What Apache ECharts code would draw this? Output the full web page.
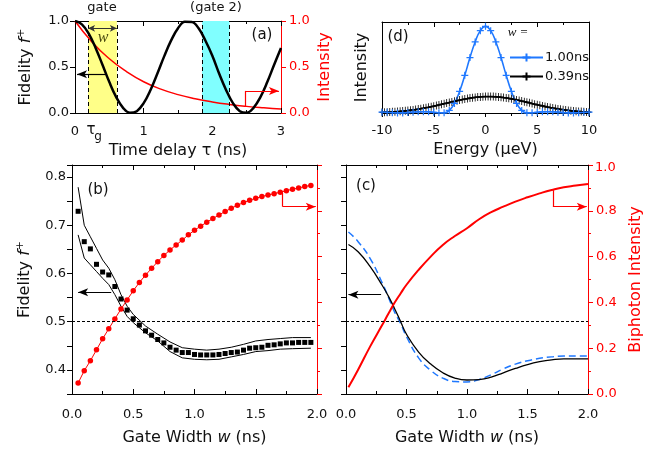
<!DOCTYPE html>
<html>
<head>
<meta charset="utf-8">
<script src="https://cdn.jsdelivr.net/npm/echarts@6/dist/echarts.min.js"></script>
<style>
  html, body { margin: 0; padding: 0; background: #fff; }
  #chart { width: 667px; height: 455px; }
</style>
</head>
<body>
<div id="chart"></div>
<script>
// (a) fidelity and intensity vs time delay
const tauA = [0, 0.1, 0.2, 0.3, 0.4, 0.5, 0.6, 0.7, 0.8, 0.9, 1.0, 1.1, 1.2, 1.3, 1.4, 1.5,
  1.6, 1.7, 1.8, 1.9, 2.0, 2.1, 2.2, 2.3, 2.4, 2.5, 2.6, 2.7, 2.8, 2.9, 3.0];
const fidA = [1.0, 0.964, 0.862, 0.707, 0.524, 0.336, 0.172, 0.056, 0.002, 0.020, 0.107, 0.25,
  0.429, 0.618, 0.789, 0.921, 0.991, 0.990, 0.920, 0.785, 0.622, 0.426, 0.25, 0.107, 0.020,
  0.002, 0.056, 0.172, 0.336, 0.524, 0.707];
const tauI = [0, 0.25, 0.5, 0.75, 1.0, 1.25, 1.5, 1.75, 2.0, 2.25, 2.5, 2.75, 3.0];
const intA = [1.0, 0.77, 0.59, 0.45, 0.34, 0.26, 0.2, 0.155, 0.12, 0.093, 0.072, 0.056, 0.043];
const gateA = [0.19, 0.61];
const gate2A = [1.85, 2.25];

// (d) spectra
const energyBlue = [-10, -9.5, -9, -8.5, -8, -7.5, -7, -6.5, -6, -5.5, -5, -4.5, -4, -3.5, -3,
  -2.5, -2, -1.5, -1, -0.5, 0, 0.5, 1, 1.5, 2, 2.5, 3, 3.5, 4, 4.5, 5, 5.5, 6, 6.5, 7, 7.5, 8,
  8.5, 9, 9.5, 10];
const specBlue = [0.010, 0.008, 0.004, 0.001, 0.001, 0.005, 0.010, 0.014, 0.015, 0.013, 0.008,
  0.003, 0.002, 0.030, 0.110, 0.250, 0.435, 0.640, 0.820, 0.950, 1.000, 0.950, 0.820, 0.640,
  0.435, 0.250, 0.110, 0.030, 0.002, 0.003, 0.008, 0.013, 0.015, 0.014, 0.010, 0.005, 0.001,
  0.001, 0.004, 0.008, 0.010];
const energyBlack = [-10, -9.75, -9.5, -9.25, -9, -8.75, -8.5, -8.25, -8, -7.75, -7.5, -7.25,
  -7, -6.75, -6.5, -6.25, -6, -5.75, -5.5, -5.25, -5, -4.75, -4.5, -4.25, -4, -3.75, -3.5,
  -3.25, -3, -2.75, -2.5, -2.25, -2, -1.75, -1.5, -1.25, -1, -0.75, -0.5, -0.25, 0, 0.25, 0.5,
  0.75, 1, 1.25, 1.5, 1.75, 2, 2.25, 2.5, 2.75, 3, 3.25, 3.5, 3.75, 4, 4.25, 4.5, 4.75, 5,
  5.25, 5.5, 5.75, 6, 6.25, 6.5, 6.75, 7, 7.25, 7.5, 7.75, 8, 8.25, 8.5, 8.75, 9, 9.25, 9.5,
  9.75, 10];
const specBlack = [0.007, 0.008, 0.009, 0.011, 0.013, 0.015, 0.017, 0.019, 0.022, 0.025, 0.028,
  0.032, 0.036, 0.040, 0.045, 0.050, 0.055, 0.061, 0.066, 0.073, 0.079, 0.086, 0.093, 0.100,
  0.107, 0.114, 0.121, 0.128, 0.135, 0.142, 0.149, 0.155, 0.161, 0.167, 0.172, 0.176, 0.180,
  0.184, 0.186, 0.188, 0.190, 0.190, 0.190, 0.189, 0.187, 0.185, 0.182, 0.178, 0.174, 0.169,
  0.163, 0.158, 0.151, 0.145, 0.138, 0.131, 0.124, 0.117, 0.109, 0.102, 0.095, 0.088, 0.082,
  0.075, 0.069, 0.063, 0.057, 0.052, 0.047, 0.042, 0.038, 0.034, 0.030, 0.026, 0.023, 0.020,
  0.018, 0.016, 0.014, 0.012, 0.010];

// (b) measured fidelity and biphoton intensity vs gate width
const wB = [0.05, 0.1, 0.15, 0.2, 0.25, 0.3, 0.35, 0.4, 0.45, 0.5, 0.55, 0.6, 0.65, 0.7, 0.75,
  0.8, 0.85, 0.9, 0.95, 1.0, 1.05, 1.1, 1.15, 1.2, 1.25, 1.3, 1.35, 1.4, 1.45, 1.5, 1.55, 1.6,
  1.65, 1.7, 1.75, 1.8, 1.85, 1.9, 1.95];
const fidB = [0.729, 0.666, 0.651, 0.619, 0.603, 0.597, 0.573, 0.547, 0.524, 0.506, 0.493,
  0.481, 0.472, 0.463, 0.456, 0.447, 0.441, 0.436, 0.436, 0.432, 0.431, 0.431, 0.431, 0.432,
  0.434, 0.436, 0.437, 0.441, 0.445, 0.446, 0.447, 0.451, 0.452, 0.454, 0.456, 0.456, 0.457,
  0.457, 0.457];
const intB = [0.048, 0.102, 0.145, 0.193, 0.241, 0.285, 0.328, 0.371, 0.411, 0.451, 0.487,
  0.519, 0.549, 0.578, 0.605, 0.629, 0.651, 0.672, 0.695, 0.715, 0.733, 0.750, 0.766, 0.782,
  0.797, 0.811, 0.824, 0.836, 0.846, 0.855, 0.862, 0.869, 0.875, 0.881, 0.888, 0.894, 0.900,
  0.906, 0.911];
const wEnv = [0.05, 0.1, 0.15, 0.2, 0.25, 0.3, 0.35, 0.4, 0.45, 0.5, 0.6, 0.7, 0.8, 0.9, 1.0,
  1.1, 1.2, 1.3, 1.4, 1.5, 1.6, 1.7, 1.8, 1.95];
const envUpper = [0.779, 0.700, 0.676, 0.652, 0.628, 0.611, 0.587, 0.556, 0.532, 0.515, 0.491,
  0.474, 0.458, 0.446, 0.443, 0.441, 0.443, 0.447, 0.453, 0.460, 0.463, 0.465, 0.467, 0.467];
const envLower = [0.680, 0.632, 0.618, 0.604, 0.590, 0.577, 0.556, 0.532, 0.511, 0.498, 0.477,
  0.460, 0.438, 0.425, 0.422, 0.421, 0.422, 0.427, 0.432, 0.438, 0.440, 0.443, 0.444, 0.445];

// (c) calculated curves
const wC = [0.02, 0.1, 0.2, 0.3, 0.35, 0.4, 0.45, 0.5, 0.6, 0.7, 0.8, 0.9, 1.0, 1.1, 1.2, 1.3,
  1.4, 1.5, 1.6, 1.7, 1.8, 1.9, 2.0];
const fidC = [0.660, 0.645, 0.614, 0.575, 0.553, 0.528, 0.501, 0.474, 0.437, 0.412, 0.394,
  0.383, 0.379, 0.380, 0.385, 0.394, 0.403, 0.411, 0.417, 0.421, 0.423, 0.423, 0.423];
const fidCdash = [0.686, 0.666, 0.631, 0.580, 0.551, 0.521, 0.497, 0.469, 0.425, 0.399, 0.383,
  0.376, 0.375, 0.380, 0.390, 0.402, 0.412, 0.419, 0.424, 0.427, 0.429, 0.429, 0.429];
const intC = [0.029, 0.106, 0.208, 0.302, 0.350, 0.397, 0.438, 0.477, 0.542, 0.600, 0.651,
  0.690, 0.724, 0.763, 0.794, 0.818, 0.840, 0.859, 0.876, 0.891, 0.903, 0.910, 0.917];

// axis-pointing arrows (data coordinates)
const arrowFidA = [[0.46, 0.42], [0.03, 0.42]];
const arrowIntA = [[2.48, 0.075], [2.48, 0.24], [2.97, 0.24]];
const arrowFidB = [[0.32, 0.561], [0.05, 0.561]];
const arrowIntB = [[1.72, 0.878], [1.72, 0.818], [1.99, 0.818]];
const arrowFidC = [[0.29, 0.556], [0.02, 0.556]];
const arrowIntC = [[1.71, 0.89], [1.71, 0.818], [1.99, 0.818]];

const RED = '#ff0000';
const BLUE = '#1f78ff';
const FONT = '"DejaVu Sans", "Liberation Sans", Arial, sans-serif';
const PLUS = 'path://M5,0L5,10M0,5L10,5';

const pairs = (xs, ys) => xs.map((x, i) => [x, ys[i]]);
// label only ticks that sit on a multiple of `step`
const every = (step, digits) => v => {
  const r = Math.round(v / step * 1e6) / 1e6;
  return Number.isInteger(r) ? (Math.round(v / step) * step).toFixed(digits) : '';
};

function arrowLines(pts, color) {
  const out = [];
  for (let i = 0; i < pts.length - 1; i++) {
    const last = i === pts.length - 2;
    out.push([
      { coord: pts[i], symbol: 'none', lineStyle: { color: color, width: 1.2, type: 'solid' } },
      { coord: pts[i + 1], symbol: last ? 'arrow' : 'none', symbolSize: [6, 10] }
    ]);
  }
  return out;
}

function xAx(grid, min, max, interval, extra) {
  return Object.assign({
    gridIndex: grid, type: 'value', min: min, max: max, interval: interval,
    axisLine: { onZero: false, lineStyle: { color: '#000', width: 1 } },
    axisTick: { inside: true, length: 5, lineStyle: { color: '#000' } },
    minorTick: { show: true, splitNumber: 2, length: 3, lineStyle: { color: '#000' } },
    splitLine: { show: false },
    minorSplitLine: { show: false },
    axisLabel: { show: false }
  }, extra);
}

function yAx(grid, min, max, interval, color, extra) {
  return Object.assign({
    gridIndex: grid, type: 'value', min: min, max: max, interval: interval,
    axisLine: { show: true, onZero: false, lineStyle: { color: color, width: 1 } },
    axisTick: { show: true, length: 5, lineStyle: { color: color } },
    splitLine: { show: false },
    axisLabel: { show: false }
  }, extra);
}

const fidName = {
  name: 'Fidelity {i|f}{s|+}',
  nameLocation: 'middle',
  nameRotate: 90,
  nameTextStyle: {
    fontSize: 16, color: '#111',
    rich: { i: { fontSize: 16, fontStyle: 'italic' }, s: { fontSize: 11, padding: [0, 0, 8, 0] } }
  }
};
const widthName = {
  name: 'Gate Width {i|w} (ns)',
  nameLocation: 'middle',
  nameGap: 36,
  nameTextStyle: { fontSize: 16, color: '#111', rich: { i: { fontSize: 16, fontStyle: 'italic' } } }
};
const lab = (fmt, margin, color) => ({
  show: true, formatter: fmt, margin: margin, fontSize: 13, color: color || '#111'
});
const intensityMinor = { show: true, splitNumber: 2, length: 3, lineStyle: { color: RED } };
const txt = (x, y, text, font, fill, align) => ({
  type: 'text', x: x, y: y, z: 10,
  style: { text: text, font: font, fill: fill || '#111', align: align || 'center', verticalAlign: 'middle' }
});

const chart = echarts.init(document.getElementById('chart'));
chart.setOption({
  animation: false,
  textStyle: { fontFamily: FONT },
  grid: [
    { left: 75, top: 21, width: 206, height: 92 },
    { left: 382, top: 22, width: 207, height: 91 },
    { left: 72, top: 165, width: 245, height: 229 },
    { left: 346, top: 165, width: 242, height: 229 }
  ],
  xAxis: [
    xAx(0, 0, 3, 1, {
      axisLabel: lab(v => String(v), 12),
      name: 'Time delay τ (ns)', nameLocation: 'middle', nameGap: 30,
      nameTextStyle: { fontSize: 16, color: '#111' }
    }),
    xAx(0, 0, 3, 1, { position: 'top' }),
    xAx(1, -10, 10, 5, {
      axisTick: { inside: false, length: 4, lineStyle: { color: '#000' } },
      axisLabel: lab(v => String(v), 11),
      name: 'Energy (μeV)', nameLocation: 'middle', nameGap: 29,
      nameTextStyle: { fontSize: 16, color: '#111' }
    }),
    xAx(1, -10, 10, 5, { position: 'top' }),
    xAx(2, 0, 2, 0.5, Object.assign({ axisLabel: lab(v => v.toFixed(1), 14) }, widthName)),
    xAx(2, 0, 2, 0.5, { position: 'top' }),
    xAx(3, 0, 2, 0.5, Object.assign({ axisLabel: lab(v => v.toFixed(1), 14) }, widthName)),
    xAx(3, 0, 2, 0.5, { position: 'top' })
  ],
  yAxis: [
    yAx(0, 0, 1, 0.5, '#000', Object.assign({ axisLabel: lab(v => v.toFixed(1), 6), nameGap: 40 }, fidName)),
    yAx(0, 0, 1, 0.5, RED, {
      position: 'right', axisLabel: lab(v => v.toFixed(1), 8, RED),
      name: 'Intensity', nameLocation: 'middle', nameRotate: 90, nameGap: 36,
      nameTextStyle: { fontSize: 16, color: RED }
    }),
    yAx(1, 0, 1.05, null, '#000', {
      axisTick: { show: false },
      name: 'Intensity', nameLocation: 'middle', nameRotate: 90, nameGap: 12,
      nameTextStyle: { fontSize: 16, color: '#111' }
    }),
    yAx(1, 0, 1.05, null, '#000', { position: 'right', axisTick: { show: false } }),
    yAx(2, 0.35, 0.825, 0.05, '#000', Object.assign({ axisLabel: lab(every(0.1, 1), 6), nameGap: 38 }, fidName)),
    yAx(2, 0, 1, 0.2, RED, { position: 'right', minorTick: intensityMinor }),
    yAx(3, 0.35, 0.825, 0.05, '#000', {}),
    yAx(3, 0, 1, 0.2, RED, {
      position: 'right', minorTick: intensityMinor,
      axisLabel: lab(v => (v < 0.99 ? v.toFixed(1) : ''), 8, RED),
      name: 'Biphoton Intensity', nameLocation: 'middle', nameRotate: 90, nameGap: 40,
      nameTextStyle: { fontSize: 16, color: RED }
    })
  ],
  legend: {
    data: ['1.00ns', '0.39ns'], orient: 'vertical', left: 504, top: 46,
    itemWidth: 33, itemHeight: 10, itemGap: 6, selectedMode: false,
    textStyle: { fontSize: 13, color: '#111', padding: [0, 0, 0, -3] }
  },
  series: [
    // (a)
    {
      type: 'line', xAxisIndex: 0, yAxisIndex: 0, data: pairs(tauA, fidA),
      smooth: 0.4, showSymbol: false, z: 4,
      lineStyle: { color: '#000', width: 2.5 },
      markArea: {
        silent: true,
        data: [
          [{ xAxis: gateA[0], itemStyle: { color: '#ffff88' } }, { xAxis: gateA[1] }],
          [{ xAxis: gate2A[0], itemStyle: { color: '#80ffff' } }, { xAxis: gate2A[1] }]
        ]
      },
      markLine: {
        silent: true, symbol: 'none', label: { show: false },
        lineStyle: { color: '#000', width: 1, type: [4, 3] },
        data: [
          { xAxis: gateA[0] }, { xAxis: gateA[1] }, { xAxis: gate2A[0] }, { xAxis: gate2A[1] },
          [
            { coord: [gateA[0], 0.92], symbol: 'arrow', symbolSize: [5, 7], lineStyle: { color: '#333', type: 'solid', width: 1 } },
            { coord: [gateA[1], 0.92], symbol: 'arrow', symbolSize: [5, 7] }
          ]
        ].concat(arrowLines(arrowFidA, '#000'))
      }
    },
    {
      type: 'line', xAxisIndex: 0, yAxisIndex: 1, data: pairs(tauI, intA),
      smooth: true, showSymbol: false, z: 3,
      lineStyle: { color: RED, width: 1.5 },
      markLine: { silent: true, symbol: 'none', label: { show: false }, data: arrowLines(arrowIntA, RED) }
    },
    // (d)
    {
      name: '0.39ns', type: 'line', xAxisIndex: 2, yAxisIndex: 2, data: pairs(energyBlack, specBlack),
      smooth: true, symbol: PLUS, symbolSize: [5, 8], showAllSymbol: true,
      lineStyle: { color: '#000', width: 1.6 },
      itemStyle: { color: '#000', borderColor: '#000', borderWidth: 1 }
    },
    {
      name: '1.00ns', type: 'line', xAxisIndex: 2, yAxisIndex: 2, data: pairs(energyBlue, specBlue),
      smooth: true, symbol: PLUS, symbolSize: [7, 7], showAllSymbol: true,
      lineStyle: { color: BLUE, width: 1.6 },
      itemStyle: { color: BLUE, borderColor: BLUE, borderWidth: 1.2 }
    },
    // (b)
    {
      type: 'line', xAxisIndex: 4, yAxisIndex: 4, data: pairs(wEnv, envUpper),
      showSymbol: false, lineStyle: { color: '#000', width: 1 }
    },
    {
      type: 'line', xAxisIndex: 4, yAxisIndex: 4, data: pairs(wEnv, envLower),
      showSymbol: false, lineStyle: { color: '#000', width: 1 }
    },
    {
      type: 'scatter', xAxisIndex: 4, yAxisIndex: 4, data: pairs(wB, fidB),
      symbol: 'rect', symbolSize: 5, itemStyle: { color: '#000', opacity: 1 },
      markLine: {
        silent: true, symbol: 'none', label: { show: false },
        data: [{ yAxis: 0.5, lineStyle: { color: '#000', width: 1, type: [3, 2] } }].concat(arrowLines(arrowFidB, '#000'))
      }
    },
    {
      type: 'line', xAxisIndex: 4, yAxisIndex: 5, data: pairs(wB, intB),
      symbol: 'circle', symbolSize: 5.5, showAllSymbol: true,
      lineStyle: { color: RED, width: 1 }, itemStyle: { color: RED },
      markLine: { silent: true, symbol: 'none', label: { show: false }, data: arrowLines(arrowIntB, RED) }
    },
    // (c)
    {
      type: 'line', xAxisIndex: 6, yAxisIndex: 6, data: pairs(wC, fidCdash),
      smooth: true, showSymbol: false, lineStyle: { color: BLUE, width: 1.5, type: [7, 4] }
    },
    {
      type: 'line', xAxisIndex: 6, yAxisIndex: 6, data: pairs(wC, fidC),
      smooth: true, showSymbol: false, lineStyle: { color: '#000', width: 1.3 },
      markLine: {
        silent: true, symbol: 'none', label: { show: false },
        data: [{ yAxis: 0.5, lineStyle: { color: '#000', width: 1, type: [3, 2] } }].concat(arrowLines(arrowFidC, '#000'))
      }
    },
    {
      type: 'line', xAxisIndex: 6, yAxisIndex: 7, data: pairs(wC, intC),
      smooth: true, showSymbol: false, lineStyle: { color: RED, width: 2 },
      markLine: { silent: true, symbol: 'none', label: { show: false }, data: arrowLines(arrowIntC, RED) }
    }
  ],
  graphic: [
    txt(102, 8, 'gate', '13px ' + FONT),
    txt(216, 8, '(gate 2)', '13px ' + FONT),
    txt(103, 38, 'w', 'italic 16px "Liberation Serif", serif', '#4a4a10'),
    txt(262, 35, '(a)', '15px ' + FONT),
    txt(91, 130, 'τ', '15px ' + FONT),
    txt(98, 137, 'g', '12px ' + FONT),
    txt(398, 37, '(d)', '15px ' + FONT),
    txt(518, 33, 'w =', 'italic 13px "Liberation Serif", serif'),
    txt(98, 190, '(b)', '15px ' + FONT),
    txt(366, 186, '(c)', '15px ' + FONT),
    // top label of the biphoton intensity axis
    Object.assign(txt(595, 168, '1.0', '13px ' + FONT, RED, 'left'), { zlevel: 1 })
  ]
});
</script>
</body>
</html>
